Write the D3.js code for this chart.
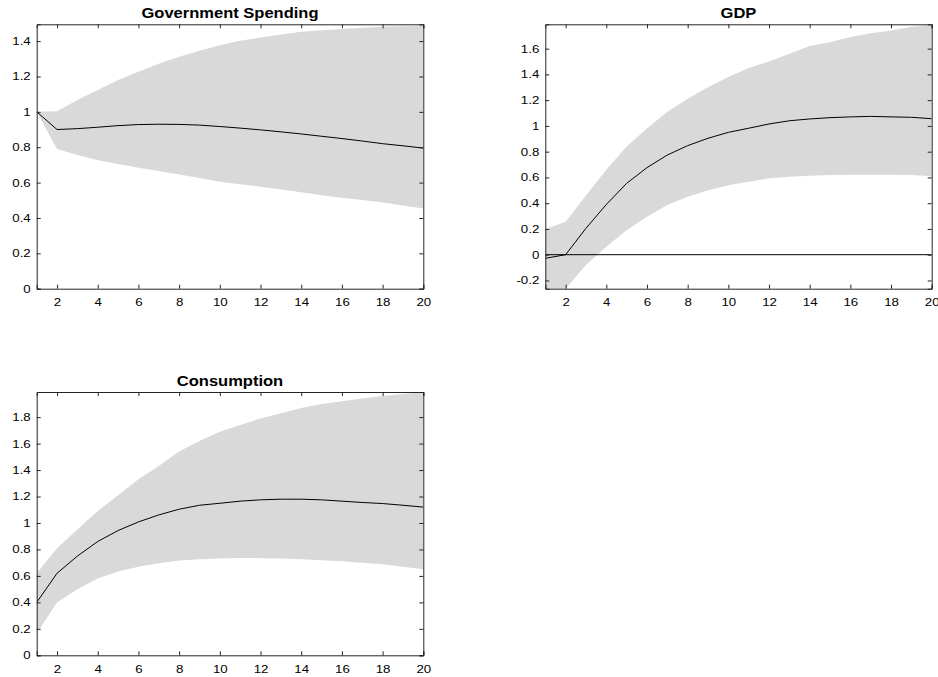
<!DOCTYPE html>
<html>
<head>
<meta charset="utf-8">
<script src="https://cdn.jsdelivr.net/npm/d3@7"></script>
<style>
  body { margin: 0; background: #fff; }
  svg { display: block; }
</style>
</head>
<body>
<svg id="chart" width="938" height="677"></svg>
<script>
// Impulse responses over a 20-period horizon: point estimate and error band
const horizon = d3.range(1, 21);

const govMean  = [1.000, 0.900, 0.905, 0.913, 0.922, 0.928, 0.930, 0.929, 0.925, 0.917,
                  0.908, 0.898, 0.887, 0.875, 0.862, 0.849, 0.835, 0.820, 0.808, 0.795];
const govLower = [1.000, 0.790, 0.756, 0.727, 0.705, 0.684, 0.665, 0.646, 0.626, 0.605,
                  0.591, 0.577, 0.561, 0.545, 0.529, 0.514, 0.501, 0.488, 0.471, 0.454];
const govUpper = [1.000, 1.004, 1.067, 1.123, 1.180, 1.227, 1.272, 1.311, 1.346, 1.377,
                  1.402, 1.420, 1.438, 1.453, 1.461, 1.468, 1.475, 1.481, 1.484, 1.487];

const gdpMean  = [-0.028, 0.000, 0.205, 0.390, 0.554, 0.676, 0.774, 0.847, 0.904, 0.950,
                  0.982, 1.015, 1.040, 1.054, 1.064, 1.070, 1.074, 1.070, 1.067, 1.056];
const gdpLower = [-0.330, -0.265, -0.080, 0.062, 0.190, 0.295, 0.386, 0.450, 0.500, 0.540,
                  0.567, 0.593, 0.606, 0.614, 0.619, 0.621, 0.621, 0.621, 0.619, 0.610];
const gdpUpper = [0.197, 0.256, 0.460, 0.660, 0.840, 0.980, 1.110, 1.210, 1.300, 1.380,
                  1.450, 1.500, 1.560, 1.620, 1.650, 1.690, 1.720, 1.740, 1.770, 1.780];

const conMean  = [0.400, 0.620, 0.750, 0.860, 0.943, 1.008, 1.061, 1.104, 1.134, 1.149,
                  1.165, 1.175, 1.180, 1.180, 1.175, 1.165, 1.155, 1.147, 1.134, 1.120];
const conLower = [0.166, 0.400, 0.500, 0.580, 0.633, 0.670, 0.696, 0.716, 0.726, 0.731,
                  0.736, 0.734, 0.731, 0.726, 0.718, 0.711, 0.700, 0.688, 0.670, 0.650];
const conUpper = [0.620, 0.810, 0.950, 1.090, 1.210, 1.330, 1.430, 1.540, 1.620, 1.690,
                  1.740, 1.790, 1.830, 1.870, 1.900, 1.920, 1.940, 1.960, 1.975, 1.990];

const xTicks = [2, 4, 6, 8, 10, 12, 14, 16, 18, 20];
const govYTicks = [0, 0.2, 0.4, 0.6, 0.8, 1, 1.2, 1.4];
const gdpYTicks = [-0.2, 0, 0.2, 0.4, 0.6, 0.8, 1, 1.2, 1.4, 1.6];
const conYTicks = [0, 0.2, 0.4, 0.6, 0.8, 1, 1.2, 1.4, 1.6, 1.8];

const titles = ["Government Spending", "GDP", "Consumption"];

const panels = [
  { title: titles[0], mean: govMean, lower: govLower, upper: govUpper,
    yDomain: [0, 1.495], yTicks: govYTicks, zeroLine: false,
    box: { left: 36.7, right: 423.3, top: 24.3, bottom: 288.7 } },
  { title: titles[1], mean: gdpMean, lower: gdpLower, upper: gdpUpper,
    yDomain: [-0.264, 1.789], yTicks: gdpYTicks, zeroLine: true,
    box: { left: 545.3, right: 931.7, top: 24.3, bottom: 288.7 } },
  { title: titles[2], mean: conMean, lower: conLower, upper: conUpper,
    yDomain: [0, 1.99], yTicks: conYTicks, zeroLine: false,
    box: { left: 36.7, right: 423.3, top: 392, bottom: 655.3 } }
];

const svg = d3.select("#chart");
const axisColor = "#262626";
const bandColor = "#d9d9d9";
const tickLen = 4;
const fontFamily = "'Liberation Sans', Arial, Helvetica, sans-serif";
const fmt = d => String(+d.toFixed(1));

panels.forEach((p, i) => {
  const b = p.box;
  const x = d3.scaleLinear().domain([1, 20]).range([b.left, b.right]);
  const y = d3.scaleLinear().domain(p.yDomain).range([b.bottom, b.top]);
  const g = svg.append("g");

  const clipId = "clip" + i;
  g.append("clipPath").attr("id", clipId)
    .append("rect")
    .attr("x", b.left).attr("y", b.top)
    .attr("width", b.right - b.left).attr("height", b.bottom - b.top);

  const plot = g.append("g").attr("clip-path", `url(#${clipId})`);

  const band = d3.area()
    .x((d, k) => x(horizon[k]))
    .y0((d, k) => y(p.lower[k]))
    .y1((d, k) => y(p.upper[k]));
  plot.append("path").datum(horizon)
    .attr("d", band)
    .attr("fill", bandColor)
    .attr("stroke", "none");

  if (p.zeroLine) {
    plot.append("line")
      .attr("x1", b.left).attr("x2", b.right)
      .attr("y1", y(0)).attr("y2", y(0))
      .attr("stroke", "#000").attr("stroke-width", 1);
  }

  const line = d3.line()
    .x((d, k) => x(horizon[k]))
    .y(d => y(d));
  plot.append("path").datum(p.mean)
    .attr("d", line)
    .attr("fill", "none")
    .attr("stroke", "#000")
    .attr("stroke-width", 1);

  // Boxed axes with inward ticks on all four sides
  const axes = [
    d3.axisBottom(x).tickValues(xTicks).tickSize(-tickLen).tickPadding(10).tickFormat(fmt),
    d3.axisTop(x).tickValues(xTicks).tickSize(-tickLen).tickFormat(""),
    d3.axisLeft(y).tickValues(p.yTicks).tickSize(-tickLen).tickPadding(6).tickFormat(fmt),
    d3.axisRight(y).tickValues(p.yTicks).tickSize(-tickLen).tickFormat("")
  ];
  const offsets = [
    [0, b.bottom], [0, b.top], [b.left, 0], [b.right, 0]
  ];
  axes.forEach((ax, k) => {
    const ag = g.append("g")
      .attr("transform", `translate(${offsets[k][0]},${offsets[k][1]})`)
      .call(ax);
    ag.select(".domain").attr("stroke", axisColor).attr("stroke-width", 1);
    ag.selectAll(".tick line").attr("stroke", axisColor);
    ag.selectAll(".tick text")
      .attr("fill", "#000")
      .style("font-family", fontFamily)
      .style("font-size", "10.8px");
  });

  // Widen tick labels a little, keeping each anchored in place
  g.selectAll(".tick text").each(function () {
    const t = d3.select(this);
    const tx = +t.attr("x") || 0;
    const ty = +t.attr("y") || 0;
    t.attr("transform", `translate(${tx},${ty}) scale(1.23,1) translate(${-tx},${-ty})`);
  });

  g.append("text")
    .attr("text-anchor", "middle")
    .attr("transform", `translate(${(b.left + b.right) / 2},${b.top - 6}) scale(1.18,1)`)
    .style("font-family", fontFamily)
    .style("font-size", "14px")
    .style("font-weight", "bold")
    .attr("fill", "#000")
    .text(p.title);
});
</script>
</body>
</html>
